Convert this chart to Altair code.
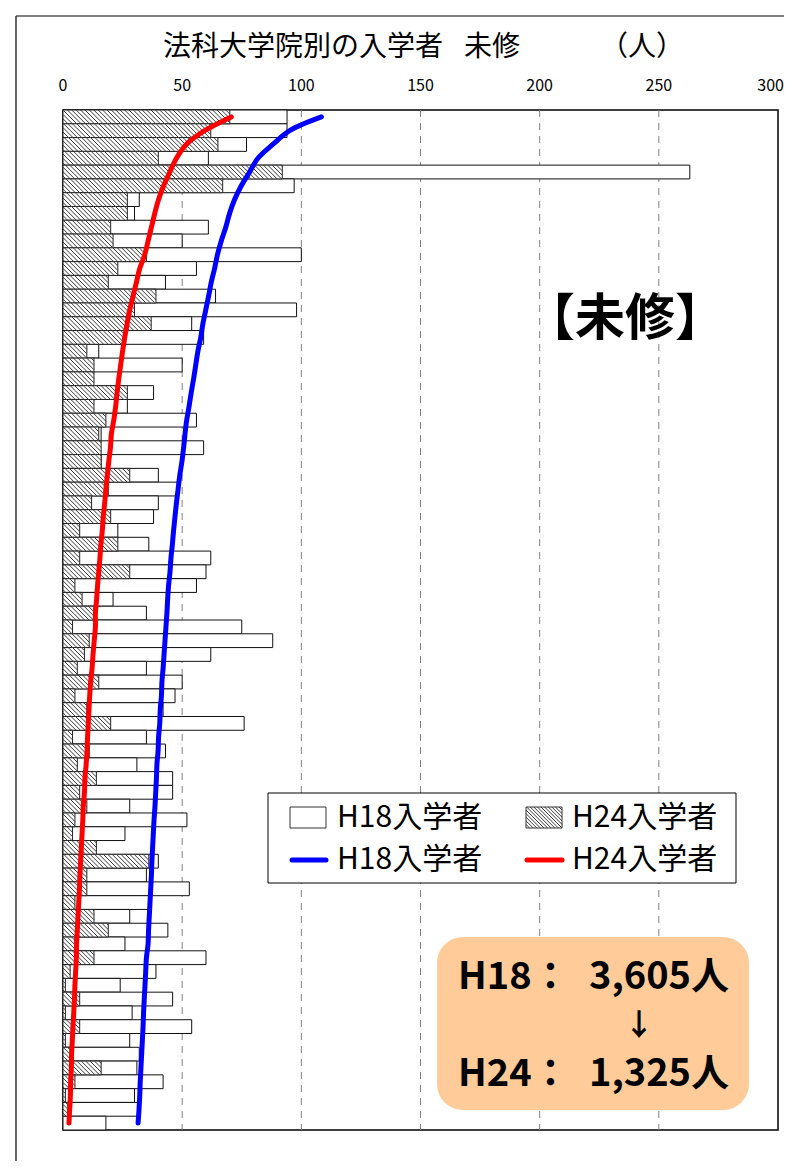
import altair as alt
import pandas as pd
import numpy as np

# ---------------- data ----------------
rows = list(range(1, 75))
h18 = [94, 94, 77, 61, 263, 97, 32, 30, 61, 50,
       100, 56, 43, 64, 98, 54, 59, 15, 50, 12,
       38, 27, 56, 16, 59, 16, 40, 48, 40, 38,
       23, 36, 62, 60, 56, 21, 35, 75, 88, 62,
       35, 50, 47, 42, 76, 35, 43, 31, 46, 46,
       28, 52, 26, 13, 40, 35, 53, 37, 28, 44,
       26, 60, 39, 24, 46, 29, 54, 28, 32, 31,
       42, 30, 32, 18]
h24 = [70, 62, 65, 40, 92, 67, 27, 27, 20, 21,
       35, 23, 19, 39, 30, 37, 26, 10, 13, 13,
       27, 13, 18, 15, 16, 16, 28, 19, 12, 20,
       7, 23, 7, 28, 5, 8, 13, 4, 11, 9,
       6, 15, 5, 10, 20, 4, 11, 6, 14, 7,
       10, 5, 4, 14, 36, 10, 10, 5, 13, 19,
       5, 13, 3, 1, 7, 1, 7, 1, 3, 16,
       5, 1, 2, 0]
line_h18 = [108.4, 95.1, 88.0, 81.8, 78.3, 74.8, 72.0, 69.9, 68.3, 66.4,
            64.8, 63.6, 62.2, 61.1, 59.9, 58.7, 57.8, 56.6, 55.7, 54.8,
            53.8, 52.9, 51.9, 51.2, 50.6, 49.9, 49.0, 48.3, 47.6, 47.0,
            46.4, 45.9, 45.3, 44.9, 44.3, 43.9, 43.6, 43.2, 42.8, 42.4,
            42.0, 41.5, 41.3, 40.8, 40.6, 40.1, 39.9, 39.4, 39.2, 38.9,
            38.6, 38.2, 37.9, 37.6, 37.3, 37.1, 36.8, 36.5, 36.2, 35.9,
            35.7, 35.0, 34.7, 34.4, 34.1, 33.8, 33.6, 33.3, 33.0, 32.7,
            32.4, 32.2, 31.9, 31.5]
line_h24 = [70.6, 59.4, 51.7, 47.6, 44.8, 42.2, 40.1, 38.5, 37.1, 35.7,
            34.3, 32.2, 30.8, 29.4, 28.0, 26.9, 25.9, 25.0, 24.2, 23.4,
            22.7, 22.1, 21.3, 20.3, 19.9, 19.2, 18.6, 18.0, 17.5, 16.9,
            16.5, 15.9, 15.5, 15.0, 14.5, 14.1, 13.6, 13.6, 13.1, 12.6,
            12.2, 11.6, 11.2, 10.9, 10.6, 10.3, 10.1, 9.7, 9.2, 9.0,
            8.5, 8.3, 8.0, 7.7, 7.4, 7.1, 6.9, 6.6, 6.3, 6.0,
            5.7, 5.6, 5.3, 5.0, 4.8, 4.5, 4.2, 3.9, 3.6, 3.5,
            3.2, 3.1, 2.8, 2.5]
tick_values = [0, 50, 100, 150, 200, 250, 300]
tick_labels = ["0", "50", "100", "150", "200", "250", "300"]
series_names = ["H18入学者", "H24入学者"]
title_parts = ["法科大学院別の入学者", "未修", "（人）"]
badge_text = "【未修】"
total_labels = ["H18：", "3,605人", "↓", "H24：", "1,325人"]

# ---------------- layout ----------------
W, H = 715, 1020
XMAX = 300
N = len(rows)
FONT = "Noto Sans CJK JP"
ppu = W / XMAX          # pixels per unit
row_px = H / N          # pixels per row
dxu = row_px / ppu      # units per row-height (45 deg hatch)
P = 4.4                 # hatch period in px

df = pd.DataFrame({"row": rows, "h18": h18, "h24": h24})
df["r0"] = df["row"] - 1
df["r1"] = df["row"]
df["zero"] = 0.0
df["mid"] = df["row"] - 0.5

lines = pd.concat([
    pd.DataFrame({"mid": df["mid"], "val": line_h18, "series": "H18"}),
    pd.DataFrame({"mid": df["mid"], "val": line_h24, "series": "H24"}),
])
ticks = pd.DataFrame({"tick": tick_values, "label": tick_labels})

# hatch segments for H24 bars, derived from the data values
segs = []
for r, v in zip(rows, h24):
    if v <= 0:
        continue
    i = r - 1
    ytop = i * row_px
    m_min = int(np.floor((-ytop - row_px) / P)) - 1
    m_max = int(np.ceil((v * ppu - ytop) / P)) + 1
    for m in range(m_min, m_max + 1):
        xt = (m * P + ytop) / ppu
        t0 = max(0.0, (0 - xt) / dxu)
        t1 = min(1.0, (v - xt) / dxu)
        if t1 > t0:
            segs.append(dict(x1=xt + t0 * dxu, y1=i + t0, x2=xt + t1 * dxu, y2=i + t1))
hatch = pd.DataFrame(segs)

x_scale = alt.Scale(domain=[0, XMAX], nice=False, zero=True)
y_scale = alt.Scale(domain=[0, N], reverse=True, nice=False)

# gridlines and top labels, placed through the x scale
grid = alt.Chart(ticks).transform_filter(
    "datum.tick > 0 && datum.tick < 300").mark_rule(
    color="#808080", strokeWidth=1, strokeDash=[7, 6]).encode(
    x=alt.X("tick:Q", scale=x_scale, axis=None),
    y=alt.value(0), y2=alt.value(H))
labels_c = alt.Chart(ticks).transform_filter("datum.tick < 300").mark_text(
    font=FONT, fontSize=16, baseline="middle", align="center", color="#000").encode(
    x=alt.X("tick:Q", scale=x_scale, axis=None), y=alt.value(-24), text="label:N")
labels_r = alt.Chart(ticks).transform_filter("datum.tick == 300").mark_text(
    font=FONT, fontSize=16, baseline="middle", align="right", dx=6, color="#000").encode(
    x=alt.X("tick:Q", scale=x_scale, axis=None), y=alt.value(-24), text="label:N")

base = alt.Chart(df)

bars18 = base.mark_rect(fill="white", stroke="#111", strokeWidth=1).encode(
    x=alt.X("zero:Q", scale=x_scale, axis=None),
    x2="h18:Q",
    y=alt.Y("r0:Q", scale=y_scale, axis=None),
    y2="r1:Q",
)
bars24 = base.transform_filter("datum.h24 > 0").mark_rect(
    fill="white", stroke="#222", strokeWidth=1).encode(
    x=alt.X("zero:Q", scale=x_scale, axis=None),
    x2="h24:Q",
    y=alt.Y("r0:Q", scale=y_scale, axis=None),
    y2="r1:Q",
)
hatch_layer = alt.Chart(hatch).mark_rule(color="#3a3a3a", strokeWidth=1.0).encode(
    x=alt.X("x1:Q", scale=x_scale, axis=None),
    x2="x2:Q",
    y=alt.Y("y1:Q", scale=y_scale, axis=None),
    y2="y2:Q",
)
line_layer = alt.Chart(lines).mark_line(strokeWidth=5, strokeCap="round",
                                        strokeJoin="round", interpolate="catmull-rom").encode(
    x=alt.X("val:Q", scale=x_scale, axis=None),
    y=alt.Y("mid:Q", scale=y_scale, axis=None),
    color=alt.Color("series:N", scale=alt.Scale(domain=["H18", "H24"], range=["#0000FF", "#FF0000"]),
                    legend=None),
    order="mid:Q",
)

one = pd.DataFrame({"k": [0]})


def txt(t, x, y, size, weight="normal", align="left"):
    return alt.Chart(pd.DataFrame({"t": [t]})).mark_text(
        font=FONT, fontSize=size, fontWeight=weight, align=align, baseline="middle", color="#000"
    ).encode(text="t:N", x=alt.value(x), y=alt.value(y))


def box(x, x2, y, y2, **kw):
    return alt.Chart(one).mark_rect(**kw).encode(
        x=alt.value(x), x2=alt.value(x2), y=alt.value(y), y2=alt.value(y2))


def rule(x, x2, y, y2, **kw):
    return alt.Chart(one).mark_rule(**kw).encode(
        x=alt.value(x), x2=alt.value(x2), y=alt.value(y), y2=alt.value(y2))


# outer frame (left and top edges visible)
frame_top = rule(-47, 730, -94, -94, color="#000", strokeWidth=1.2)
frame_left = rule(-47, -47, -94, 1060, color="#000", strokeWidth=1.2)

title1 = txt(title_parts[0], 100, -62, 28)
title2 = txt(title_parts[1], 401, -62, 28)
title3 = txt(title_parts[2], 579, -62, 28, align="center")
badge = txt(badge_text, 562, 210, 50, weight="bold", align="center")

# legend
leg_box = box(205, 673, 683, 773, fill="white", stroke="#000", strokeWidth=1)
sw1 = box(227, 263, 697, 718, fill="white", stroke="#333", strokeWidth=1)
sw2 = box(463, 499, 697, 718, fill="white", stroke="#333", strokeWidth=1)
lsegs = []
sx0, sx1, sy0, sy1 = 463, 499, 697, 718
hh = sy1 - sy0
for m in range(-12, 20):
    xt = sx0 + m * 3.6 - hh
    t0 = max(0.0, (sx0 - xt) / hh)
    t1 = min(1.0, (sx1 - xt) / hh)
    if t1 > t0:
        lsegs.append(dict(a=xt + t0 * hh, b=sy0 + t0 * hh, c=xt + t1 * hh, d=sy0 + t1 * hh))
leg_hatch = alt.Chart(pd.DataFrame(lsegs)).mark_rule(color="#3a3a3a", strokeWidth=1.0).encode(
    x=alt.X("a:Q", scale=None, axis=None), x2="c:Q",
    y=alt.Y("b:Q", scale=None, axis=None), y2="d:Q")
ln1 = rule(229, 263, 750, 750, color="#0000FF", strokeWidth=5, strokeCap="round")
ln2 = rule(464, 499, 750, 750, color="#FF0000", strokeWidth=5, strokeCap="round")
lt1 = txt(series_names[0], 274, 708, 30)
lt2 = txt(series_names[1], 509, 708, 30)
lt3 = txt(series_names[0], 274, 750, 30)
lt4 = txt(series_names[1], 509, 750, 30)

# totals box
tot_box = box(374, 686, 827, 1000, fill="#FFCC99", cornerRadius=26)
tA = txt(total_labels[0], 395, 868, 38, weight="bold")
tB = txt(total_labels[1], 666, 868, 38, weight="bold", align="right")
tC = txt(total_labels[2], 576, 916, 30, weight="bold", align="center")
tD = txt(total_labels[3], 395, 965, 38, weight="bold")
tE = txt(total_labels[4], 666, 965, 38, weight="bold", align="right")

chart = alt.layer(
    grid, labels_c, labels_r,
    bars18, bars24, hatch_layer, line_layer,
    frame_top, frame_left, title1, title2, title3, badge,
    leg_box, sw1, sw2, leg_hatch, ln1, ln2, lt1, lt2, lt3, lt4,
    tot_box, tA, tB, tC, tD, tE,
).properties(
    width=W, height=H,
    autosize=alt.AutoSizeParams(type="none"),
    padding={"left": 55, "top": 102, "right": 6, "bottom": 31},
    background="white",
).configure_view(stroke="#000", strokeWidth=1.5)

chart.save("out.html", embed_options={"renderer": "svg", "actions": False})
